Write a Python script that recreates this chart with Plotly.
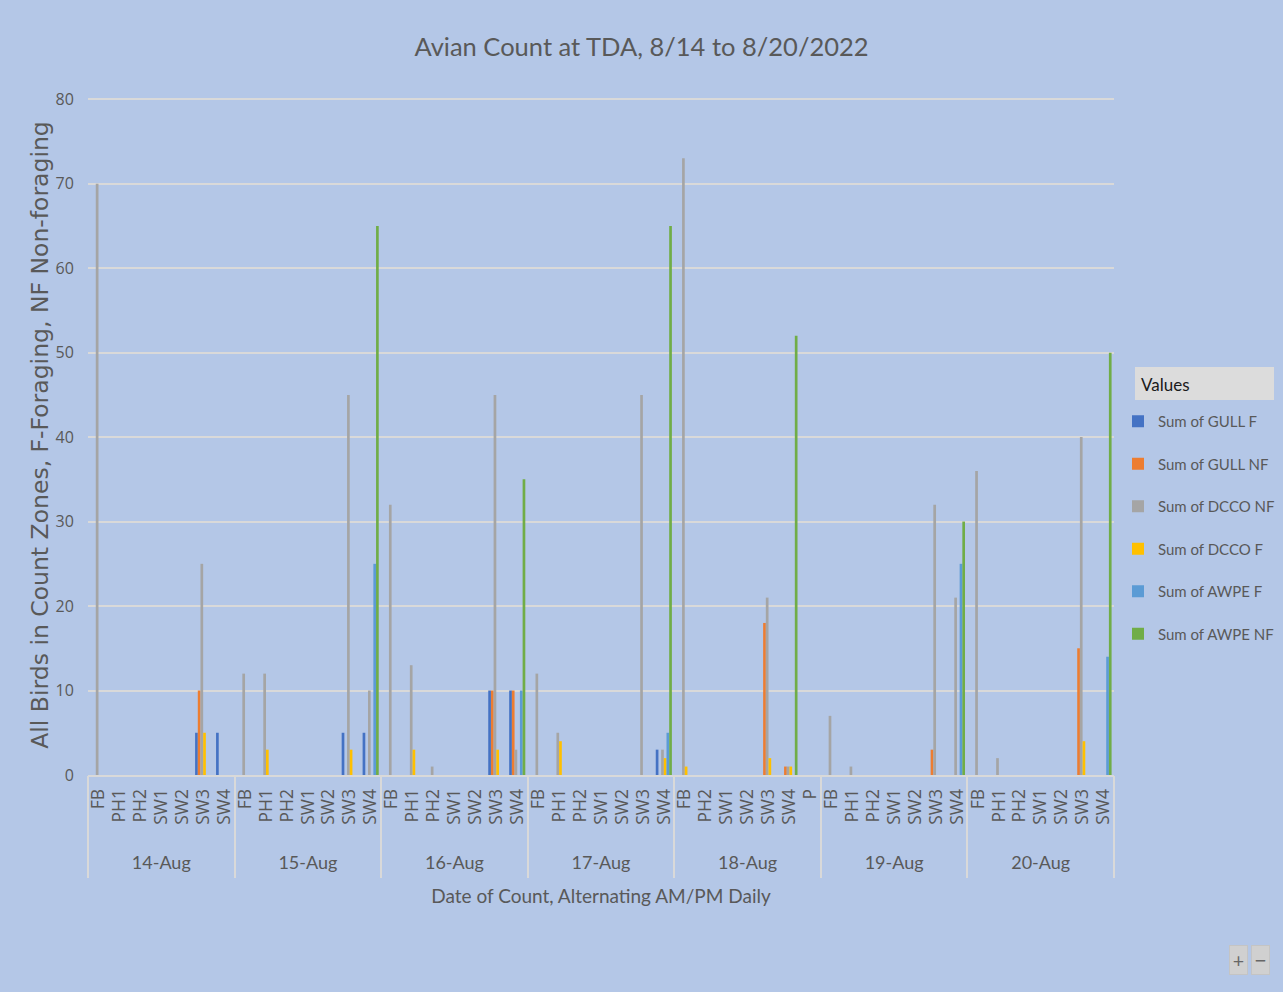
import plotly.graph_objects as go

# ---------------- data ----------------
days = ["14-Aug", "15-Aug", "16-Aug", "17-Aug", "18-Aug", "19-Aug", "20-Aug"]
zones_std = ["FB", "PH1", "PH2", "SW1", "SW2", "SW3", "SW4"]
zones_18 = ["FB", "PH2", "SW1", "SW2", "SW3", "SW4", "P"]
zones_by_day = [zones_std, zones_std, zones_std, zones_std, zones_18, zones_std, zones_std]

gull_f = [0, 0, 0, 0, 0, 5, 5,
          0, 0, 0, 0, 0, 5, 5,
          0, 0, 0, 0, 0, 10, 10,
          0, 0, 0, 0, 0, 0, 3,
          0, 0, 0, 0, 0, 0, 0,
          0, 0, 0, 0, 0, 0, 0,
          0, 0, 0, 0, 0, 0, 0]
gull_nf = [0, 0, 0, 0, 0, 10, 0,
           0, 0, 0, 0, 0, 0, 0,
           0, 0, 0, 0, 0, 10, 10,
           0, 0, 0, 0, 0, 0, 0,
           0, 0, 0, 0, 18, 1, 0,
           0, 0, 0, 0, 0, 3, 0,
           0, 0, 0, 0, 0, 15, 0]
dcco_nf = [70, 0, 0, 0, 0, 25, 0,
           12, 12, 0, 0, 0, 45, 10,
           32, 13, 1, 0, 0, 45, 3,
           12, 5, 0, 0, 0, 45, 3,
           73, 0, 0, 0, 21, 1, 0,
           7, 1, 0, 0, 0, 32, 21,
           36, 2, 0, 0, 0, 40, 0]
dcco_f = [0, 0, 0, 0, 0, 5, 0,
          0, 3, 0, 0, 0, 3, 0,
          0, 3, 0, 0, 0, 3, 0,
          0, 4, 0, 0, 0, 0, 2,
          1, 0, 0, 0, 2, 1, 0,
          0, 0, 0, 0, 0, 0, 0,
          0, 0, 0, 0, 0, 4, 0]
awpe_f = [0, 0, 0, 0, 0, 0, 0,
          0, 0, 0, 0, 0, 0, 25,
          0, 0, 0, 0, 0, 0, 10,
          0, 0, 0, 0, 0, 0, 5,
          0, 0, 0, 0, 0, 0, 0,
          0, 0, 0, 0, 0, 0, 25,
          0, 0, 0, 0, 0, 0, 14]
awpe_nf = [0, 0, 0, 0, 0, 0, 0,
           0, 0, 0, 0, 0, 0, 65,
           0, 0, 0, 0, 0, 0, 35,
           0, 0, 0, 0, 0, 0, 65,
           0, 0, 0, 0, 0, 52, 0,
           0, 0, 0, 0, 0, 0, 30,
           0, 0, 0, 0, 0, 0, 50]

series_names = ["Sum of GULL F", "Sum of GULL NF", "Sum of DCCO NF",
                "Sum of DCCO F", "Sum of AWPE F", "Sum of AWPE NF"]
series_values = [gull_f, gull_nf, dcco_nf, dcco_f, awpe_f, awpe_nf]
series_colors = ["#4472C4", "#ED7D31", "#A5A5A5", "#FFC000", "#5B9BD5", "#70AD47"]

# ---------------- derived category positions ----------------
inner = [z for zs in zones_by_day for z in zs]
pos = list(range(len(inner)))                      # one slot per (day, zone)
group_sizes = [len(zs) for zs in zones_by_day]
starts = [sum(group_sizes[:k]) for k in range(len(group_sizes))]
centers = [s + (n - 1) / 2 for s, n in zip(starts, group_sizes)]
bounds = [s - 0.5 for s in starts] + [len(inner) - 0.5]
xr = [-0.5, len(inner) - 0.5]

W, H = 1283, 992
ML, MR, MT, MB = 88, 169, 95, 217
PW, PH = W - ML - MR, H - MT - MB

def px_x(px):
    return (px - ML) / PW

def px_y(py):
    return (H - MB - py) / PH

BG = "#B4C7E7"
TXT = "#595959"
GRID = "#D9D9D9"
CAL = "Lato, Open Sans, sans-serif"
WIDE = "Open Sans, DejaVu Sans, sans-serif"
DJ = "DejaVu Sans, Open Sans, sans-serif"

fig = go.Figure()
for i, (name, vals, col) in enumerate(zip(series_names, series_values, series_colors)):
    fig.add_trace(go.Bar(
        x=pos, y=vals, name=name, customdata=inner,
        marker=dict(color=col, line=dict(width=0)),
        legendgroup=f"g{i}",
    ))

fig.update_layout(
    width=W, height=H,
    paper_bgcolor=BG, plot_bgcolor=BG,
    margin=dict(l=ML, r=MR, t=MT, b=MB, autoexpand=False),
    barmode="group", bargap=0.23, bargroupgap=0,
    title=dict(text="Avian Count at TDA, 8/14 to 8/20/2022",
               x=0.5, xref="container", xanchor="center",
               y=1 - 47 / H, yref="container", yanchor="middle",
               font=dict(family=CAL, size=25.5, color=TXT)),
    showlegend=True,
    legend=dict(x=px_x(1118), y=px_y(405), xanchor="left", yanchor="top",
                bgcolor="rgba(0,0,0,0)",
                font=dict(family=CAL, size=15, color=TXT),
                tracegroupgap=20, itemwidth=30),
    # zone labels
    xaxis=dict(range=xr, tickmode="array", tickvals=pos, ticktext=inner,
               tickangle=-90, tickfont=dict(family=WIDE, size=17.5, color=TXT),
               showline=True, linecolor=GRID, linewidth=2,
               showgrid=False, zeroline=False,
               ticks="outside", ticklen=5, tickcolor="rgba(0,0,0,0)"),
    # day labels
    xaxis2=dict(range=xr, overlaying="x", anchor="y", side="bottom",
                tickmode="array", tickvals=centers, ticktext=days,
                tickfont=dict(family=CAL, size=18, color=TXT),
                showline=False, showgrid=False, zeroline=False,
                ticks="outside", ticklen=71, tickcolor="rgba(0,0,0,0)",
                title=dict(text="Date of Count, Alternating AM/PM Daily",
                           font=dict(family=CAL, size=19, color=TXT),
                           standoff=18)),
    # group dividers
    xaxis3=dict(range=xr, overlaying="x", anchor="y", side="bottom",
                tickmode="array", tickvals=bounds, showticklabels=False,
                showline=False, showgrid=False, zeroline=False,
                ticks="outside", ticklen=102, tickwidth=2, tickcolor=GRID),
    yaxis=dict(range=[0, 80.5], dtick=10, tick0=0,
               showgrid=True, gridcolor=GRID, gridwidth=2,
               zeroline=False, showline=False,
               ticks="outside", ticklen=10, tickcolor=BG,
               tickfont=dict(family=WIDE, size=16, color=TXT),
               title=dict(text="All Birds in Count Zones, F-Foraging, NF Non-foraging",
                          font=dict(family=DJ, size=23.5, color=TXT),
                          standoff=0)),
)

# invisible helpers so the overlay axes are rendered
for ax in ("x2", "x3"):
    fig.add_trace(go.Scatter(x=[xr[0]], y=[0], xaxis=ax, yaxis="y", mode="markers",
                             marker=dict(opacity=0), showlegend=False, hoverinfo="skip"))

# legend header box and its caption
fig.add_shape(type="rect", xref="paper", yref="paper",
              x0=px_x(1135), x1=px_x(1274), y0=px_y(400), y1=px_y(367),
              fillcolor="#DCDCDC", line=dict(width=0), layer="below")
fig.add_annotation(xref="paper", yref="paper", x=px_x(1139), y=px_y(384),
                   xanchor="left", yanchor="middle", text="Values", showarrow=False,
                   font=dict(family=CAL, size=17, color="#1a1a1a"))

# pivot field buttons (+ / -)
for txt, cx in (("+", 1238.5), ("−", 1260.5)):
    fig.add_annotation(xref="paper", yref="paper", x=px_x(cx), y=px_y(960),
                       xanchor="center", yanchor="middle",
                       text=txt, showarrow=False,
                       font=dict(family=WIDE, size=20, color="#666666"),
                       bgcolor="#D0D0D0", bordercolor="#C4C4C4", borderwidth=1,
                       width=15, height=26)

fig.write_html("out.html",
               config={"displayModeBar": False},
               post_script="document.body.style.margin='0';"
                           "document.body.style.background='#B4C7E7';")
